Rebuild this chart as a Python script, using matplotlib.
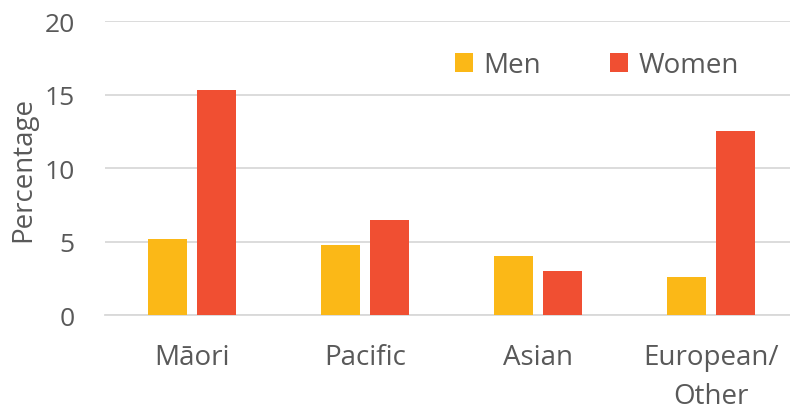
import matplotlib
matplotlib.use('Agg')
import matplotlib.pyplot as plt
import numpy as np

plt.rcParams['font.family'] = ['Open Sans', 'DejaVu Sans']

groups = ['Māori', 'Pacific', 'Asian', 'European/\nOther']
men = [5.2, 4.8, 4.0, 2.6]
women = [15.3, 6.5, 3.0, 12.5]

men_color = '#FBB817'
women_color = '#F04F32'
text_color = '#595959'

fig = plt.figure(figsize=(7.9, 4.1), dpi=100)
ax = fig.add_axes([0.1335, 0.229, 0.876, 0.717])

x = np.arange(len(groups))
w = 0.225
off = 0.143
ax.bar(x - off, men, w, color=men_color, label='Men', zorder=3)
ax.bar(x + off, women, w, color=women_color, label='Women', zorder=3)

ax.set_xlim(-0.5, len(groups) - 0.5)
ax.set_ylim(0, 20)
ax.set_yticks([0, 5, 10, 15, 20])
ax.yaxis.grid(True, color='#d9d9d9', linewidth=1.3, zorder=0)
ax.set_axisbelow(True)
for s in ['top', 'right', 'left']:
    ax.spines[s].set_visible(False)
ax.spines['bottom'].set_color('#d9d9d9')
ax.spines['bottom'].set_linewidth(1.3)

ax.set_xticks(x)
ax.set_xticklabels(groups, fontsize=20, color=text_color, linespacing=1.55, va='top')
ax.tick_params(axis='x', length=0, pad=20)
ax.tick_params(axis='y', length=0, pad=22, labelsize=19, labelcolor=text_color)

ax.set_ylabel('Percentage', fontsize=20, color=text_color)
ax.yaxis.set_label_coords(-0.099, 0.5)

ax.legend(loc='upper left', bbox_to_anchor=(455 / 790, 1 - 52 / 410),
          bbox_transform=fig.transFigure, ncol=2, frameon=False,
          borderpad=0, borderaxespad=0,
          fontsize=20, labelcolor=text_color, handlelength=0.65, handleheight=0.65,
          handletextpad=0.36, columnspacing=2.5)

fig.savefig('out.png', dpi=100)
